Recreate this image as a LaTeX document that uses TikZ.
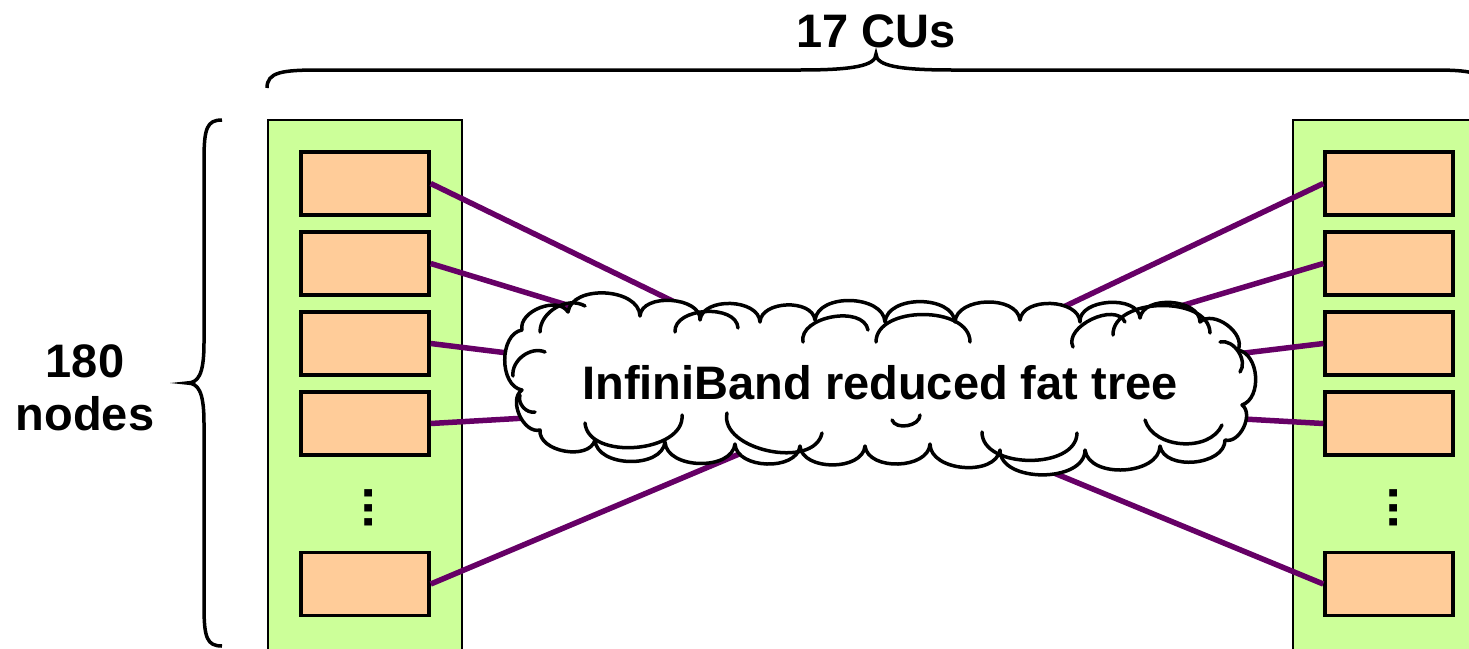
\documentclass[tikz,border=0pt]{standalone}
\usepackage{fontspec}
\setmainfont{Liberation Sans}
\definecolor{cugreen}{HTML}{CCFF99}
\definecolor{nodeorange}{HTML}{FFCC99}
\definecolor{linkpurple}{HTML}{660066}
\tikzset{
  cubox/.style={draw=black, line width=2.5pt, fill=cugreen},
  nodebox/.style={draw=black, line width=3.5pt, fill=nodeorange, minimum width=128pt, minimum height=63pt, inner sep=0pt},
  link/.style={draw=linkpurple, line width=5.5pt},
  bigtext/.style={font=\bfseries\fontsize{47}{53}\selectfont, inner sep=0pt, align=center},
  dotstack/.style={font=\bfseries\fontsize{52}{60}\selectfont, inner sep=0pt, rotate=90},
  bracepath/.style={draw=black, line width=3.5pt},
  cloudline/.style={draw=black, line width=3.5pt, line join=round, line cap=round},
}
\begin{document}
\begin{tikzpicture}[x=1pt,y=-1pt]
\useasboundingbox (0,0) rectangle (1469,648);
\clip (0,0) rectangle (1469,648);
% CU columns
\draw[cubox] (268,120) rectangle (462,700);
\draw[cubox] (1293,120) rectangle (1520,700);
% nodes left
\node[nodebox] (l1) at (365,183.5) {};
\node[nodebox] (l2) at (365,263.5) {};
\node[nodebox] (l3) at (365,343.5) {};
\node[nodebox] (l4) at (365,423.5) {};
\node[nodebox] (l5) at (365,584) {};
\node[dotstack] (ld) at (369,508) {...};
% nodes right
\node[nodebox] (r1) at (1389,183.5) {};
\node[nodebox] (r2) at (1389,263.5) {};
\node[nodebox] (r3) at (1389,343.5) {};
\node[nodebox] (r4) at (1389,423.5) {};
\node[nodebox] (r5) at (1389,584) {};
\node[dotstack] (rd) at (1394,508) {...};
% links
\coordinate (hub) at (872,398);
\foreach \n in {1,...,5}{
  \draw[link] (l\n.east) -- (hub);
  \draw[link] (r\n.west) -- (hub);
}
% cloud outline
\path[cloudline, fill=white] (522,330)
  to[bend left=80] (568,312)
  to[bend left=85] (640,316)
  to[bend left=90] (700,320)
  to[bend left=85] (760,322)
  to[bend left=85] (815,320)
  to[bend left=85] (885,322)
  to[bend left=85] (955,322)
  to[bend left=85] (1020,320)
  to[bend left=85] (1080,322)
  to[bend left=90] (1140,318)
  to[bend left=85] (1200,322)
  to[bend left=80] (1238,350)
  to[bend left=75] (1242,405)
  to[bend left=80] (1225,440)
  to[bend left=85] (1160,446)
  to[bend left=85] (1085,450)
  to[bend left=90] (1000,450)
  to[bend left=85] (930,444)
  to[bend left=85] (865,446)
  to[bend left=85] (800,446)
  to[bend left=85] (735,444)
  to[bend left=85] (665,442)
  to[bend left=85] (595,440)
  to[bend left=85] (540,430)
  to[bend left=80] (522,390)
  to[bend left=80] cycle;
% inner cloud arcs
\draw[cloudline] (675,332) to[bend left=90] (738,328);
\draw[cloudline] (803,342) to[bend left=90] (868,330);
\draw[cloudline] (876,342) to[bend left=90] (970,342);
\draw[cloudline] (1073,347) to[bend left=90] (1125,322);
\draw[cloudline] (1113,335) to[bend left=90] (1210,333);
\draw[cloudline] (540,332) to[bend left=60] (585,306);
\draw[cloudline] (1220,342) to[bend left=70] (1240,372);
\draw[cloudline] (682,415) to[bend left=90] (585,423);
\draw[cloudline] (822,433) to[bend left=90] (727,413);
\draw[cloudline] (920,415) to[bend left=80] (892,420);
\draw[cloudline] (1077,433) to[bend left=90] (982,432);
\draw[cloudline] (1222,425) to[bend left=70] (1145,420);
\draw[cloudline] (545,352) to[bend right=60] (513,376);
\draw[cloudline] (535,412) to[bend left=60] (520,395);
\node[bigtext] (fabtxt) at (880,383) {InfiniBand reduced fat tree};
% top brace
\draw[bracepath] (267,88) .. controls (267,72) and (282,70) .. (320,70) -- (800,70)
  .. controls (852,70) and (876,66) .. (876,54)
  .. controls (876,66) and (900,70) .. (952,70) -- (1432,70)
  .. controls (1470,70) and (1485,72) .. (1485,88);
\node[bigtext] (cus) at (876,31) {17 CUs};
% left brace
\draw[bracepath] (222,120) .. controls (207,120) and (204,128) .. (204,160) -- (204,343)
  .. controls (204,375) and (198,383) .. (187,383)
  .. controls (198,383) and (204,391) .. (204,423) -- (204,606)
  .. controls (204,638) and (207,646) .. (222,646);
\node[bigtext] (cnt) at (85,388) {180\\nodes};
\end{tikzpicture}
\end{document}
